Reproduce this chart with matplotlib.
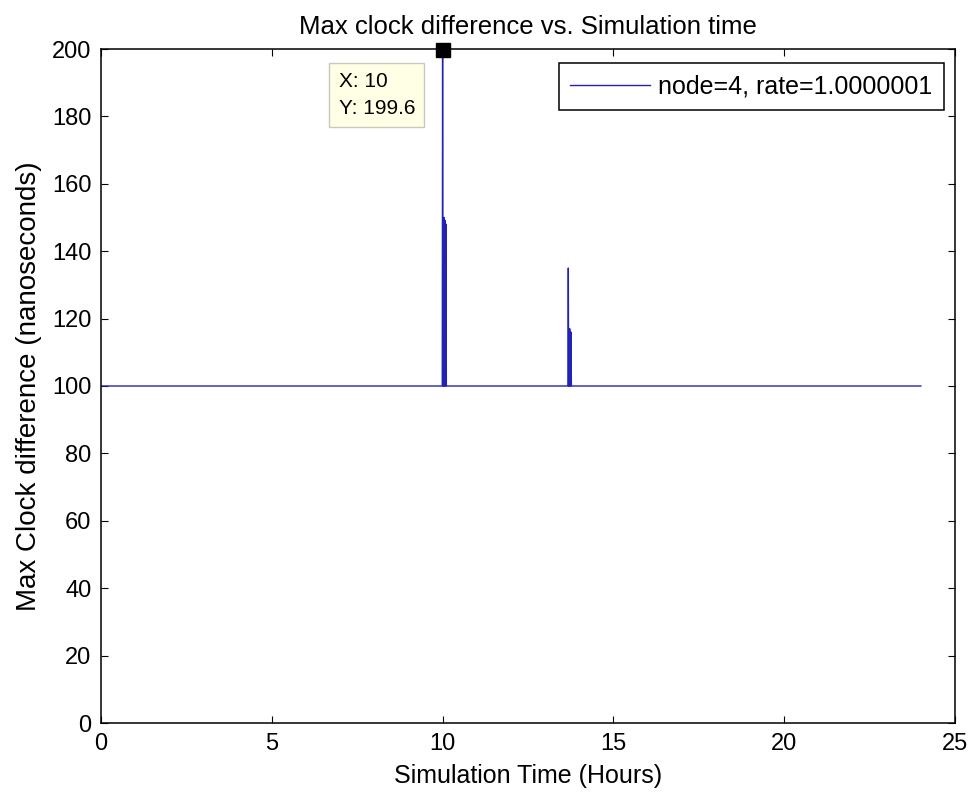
import matplotlib.pyplot as plt

# simulation time (hours) and max clock difference (ns)
time_h = [0, 9.99, 10.0, 10.01, 10.02, 10.03, 10.04, 10.05, 10.06, 10.07, 10.08,
          10.09, 10.10, 10.11, 10.12,
          13.67, 13.68, 13.69, 13.70, 13.71, 13.72, 13.73, 13.74, 13.75, 13.76,
          13.77, 13.78, 24]
max_diff = [100, 100, 199.6, 100, 150, 100, 150, 100, 149, 100, 149,
            100, 148, 100, 100,
            100, 135, 100, 117, 100, 117, 100, 116, 100, 116,
            100, 100, 100]

tip_x, tip_y = 10, 199.6

plt.rcParams['font.family'] = ['Liberation Sans', 'DejaVu Sans']

fig = plt.figure(figsize=(9.69, 7.95), dpi=100)
ax = fig.add_axes([101/969, 1-723/795, 854/969, 674/795])

ax.plot(time_h, max_diff, color='#2222b4', lw=1.0,
        label='node=4, rate=1.0000001')

# data tip
ax.plot([tip_x], [tip_y], marker='s', ms=10.5, color='black', clip_on=False, zorder=5)
ax.annotate('X: 10\nY: 199.6', xy=(tip_x, tip_y), xytext=(-104, -22),
            textcoords='offset pixels', fontsize=15, va='top', ha='left',
            linespacing=1.5, annotation_clip=False,
            bbox=dict(boxstyle='square,pad=0.45', fc='#ffffe6', ec='#c8c8bc', lw=1))

ax.set_xlim(0, 25)
ax.set_ylim(0, 200)
ax.set_xticks(range(0, 26, 5))
ax.set_yticks(range(0, 201, 20))
ax.tick_params(direction='in', top=True, right=True, labelsize=17, length=5, pad=7)
for s in ax.spines.values():
    s.set_linewidth(1.1)

ax.set_xlabel('Simulation Time (Hours)', fontsize=18, labelpad=7)
ax.set_ylabel('Max Clock difference (nanoseconds)', fontsize=20, labelpad=7)
ax.set_title('Max clock difference vs. Simulation time', fontsize=18.5, pad=11)

leg = ax.legend(loc='upper right', bbox_to_anchor=(944/969, 1-63/795),
                bbox_transform=fig.transFigure, borderaxespad=0,
                fontsize=18, handlelength=3.2, handletextpad=0.35, borderpad=0.45,
                fancybox=False, edgecolor='black', framealpha=1)
leg.get_frame().set_linewidth(1.1)

fig.savefig('out.png', dpi=100)
